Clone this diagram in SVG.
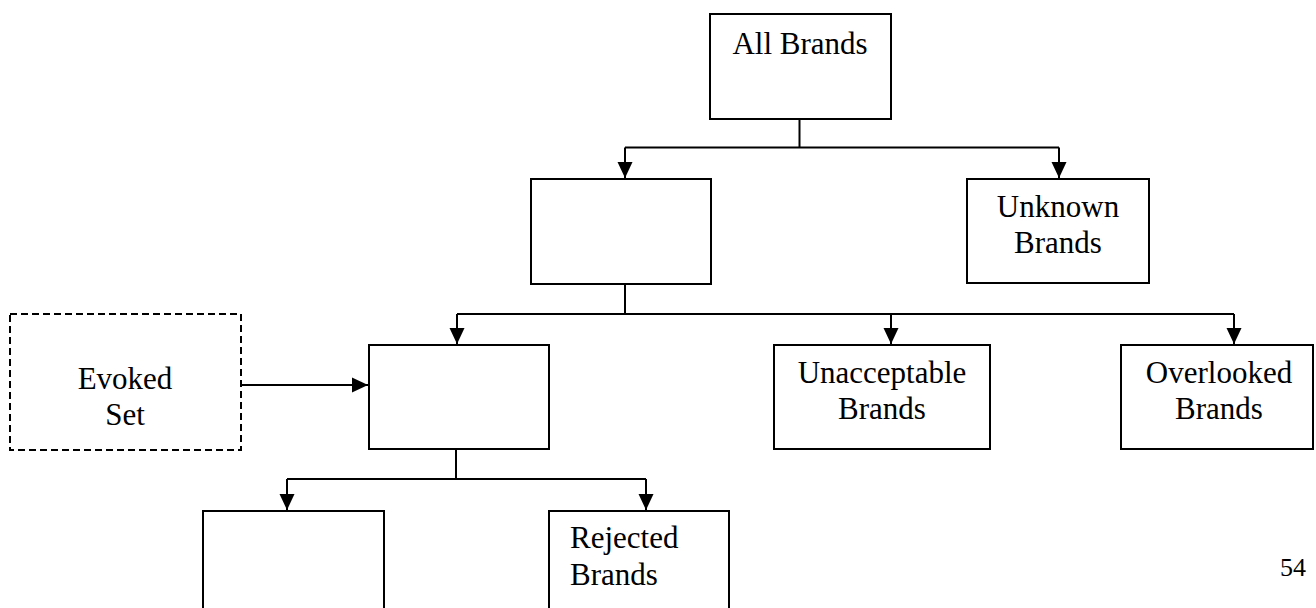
<svg xmlns="http://www.w3.org/2000/svg" width="1316" height="608" viewBox="0 0 1316 608">
  <style>
    .box { fill: #fff; stroke: #000; stroke-width: 2; }
    .dashed { stroke-dasharray: 7 4; }
    .wire { fill: none; stroke: #000; stroke-width: 2; }
    .lbl { font-family: "Liberation Serif", "Times New Roman", serif; font-size: 31px; fill: #000; }
    .mid { text-anchor: middle; }
    .folio { font-size: 26px; }
  </style>
  <defs>
    <marker id="arrow" markerUnits="userSpaceOnUse" markerWidth="18" markerHeight="18" viewBox="0 0 18 18" refX="16" refY="9" orient="auto">
      <path d="M0,1.5 L16,9 L0,16.5 Z" fill="#000"/>
    </marker>
  </defs>

  <rect width="1316" height="608" fill="#fff"/>

  <g id="connectors">
    <!-- All Brands split -->
    <path class="wire" d="M799.5,119 V147.5"/>
    <path class="wire" d="M625,147.5 H1059"/>
    <path class="wire" d="M625,147.5 V178" marker-end="url(#arrow)"/>
    <path class="wire" d="M1059,147.5 V178" marker-end="url(#arrow)"/>
    <!-- known brands split -->
    <path class="wire" d="M625,284 V314"/>
    <path class="wire" d="M457,314 H1234"/>
    <path class="wire" d="M457,314 V344" marker-end="url(#arrow)"/>
    <path class="wire" d="M891,314 V344" marker-end="url(#arrow)"/>
    <path class="wire" d="M1234,314 V344" marker-end="url(#arrow)"/>
    <!-- evoked set feed -->
    <path class="wire" d="M241,385 H368" marker-end="url(#arrow)"/>
    <!-- awareness set split -->
    <path class="wire" d="M456,449 V479"/>
    <path class="wire" d="M287,479 H646"/>
    <path class="wire" d="M287,479 V510" marker-end="url(#arrow)"/>
    <path class="wire" d="M646,479 V510" marker-end="url(#arrow)"/>
  </g>

  <g id="all-brands">
    <rect class="box" x="710" y="14" width="181" height="105"/>
    <text class="lbl mid" x="800" y="54">All Brands</text>
  </g>

  <g id="known-brands">
    <rect class="box" x="531" y="179" width="180" height="105"/>
  </g>

  <g id="unknown-brands">
    <rect class="box" x="967" y="179" width="182" height="104"/>
    <text class="lbl mid" x="1058" y="217">Unknown</text>
    <text class="lbl mid" x="1058" y="253">Brands</text>
  </g>

  <g id="evoked-set">
    <rect class="box dashed" x="10" y="314" width="231" height="136"/>
    <text class="lbl mid" x="125" y="389">Evoked</text>
    <text class="lbl mid" x="125" y="425">Set</text>
  </g>

  <g id="awareness-set">
    <rect class="box" x="369" y="345" width="180" height="104"/>
  </g>

  <g id="unacceptable-brands">
    <rect class="box" x="774" y="345" width="216" height="104"/>
    <text class="lbl mid" x="882" y="383">Unacceptable</text>
    <text class="lbl mid" x="882" y="419">Brands</text>
  </g>

  <g id="overlooked-brands">
    <rect class="box" x="1121" y="345" width="192" height="104"/>
    <text class="lbl mid" x="1219" y="383">Overlooked</text>
    <text class="lbl mid" x="1219" y="419">Brands</text>
  </g>

  <g id="consideration-set">
    <rect class="box" x="203" y="511" width="181" height="110"/>
  </g>

  <g id="rejected-brands">
    <rect class="box" x="549" y="511" width="180" height="110"/>
    <text class="lbl" x="570" y="548">Rejected</text>
    <text class="lbl" x="570" y="585">Brands</text>
  </g>

  <g id="page-number">
    <text class="lbl folio" x="1280" y="576">54</text>
  </g>
</svg>
